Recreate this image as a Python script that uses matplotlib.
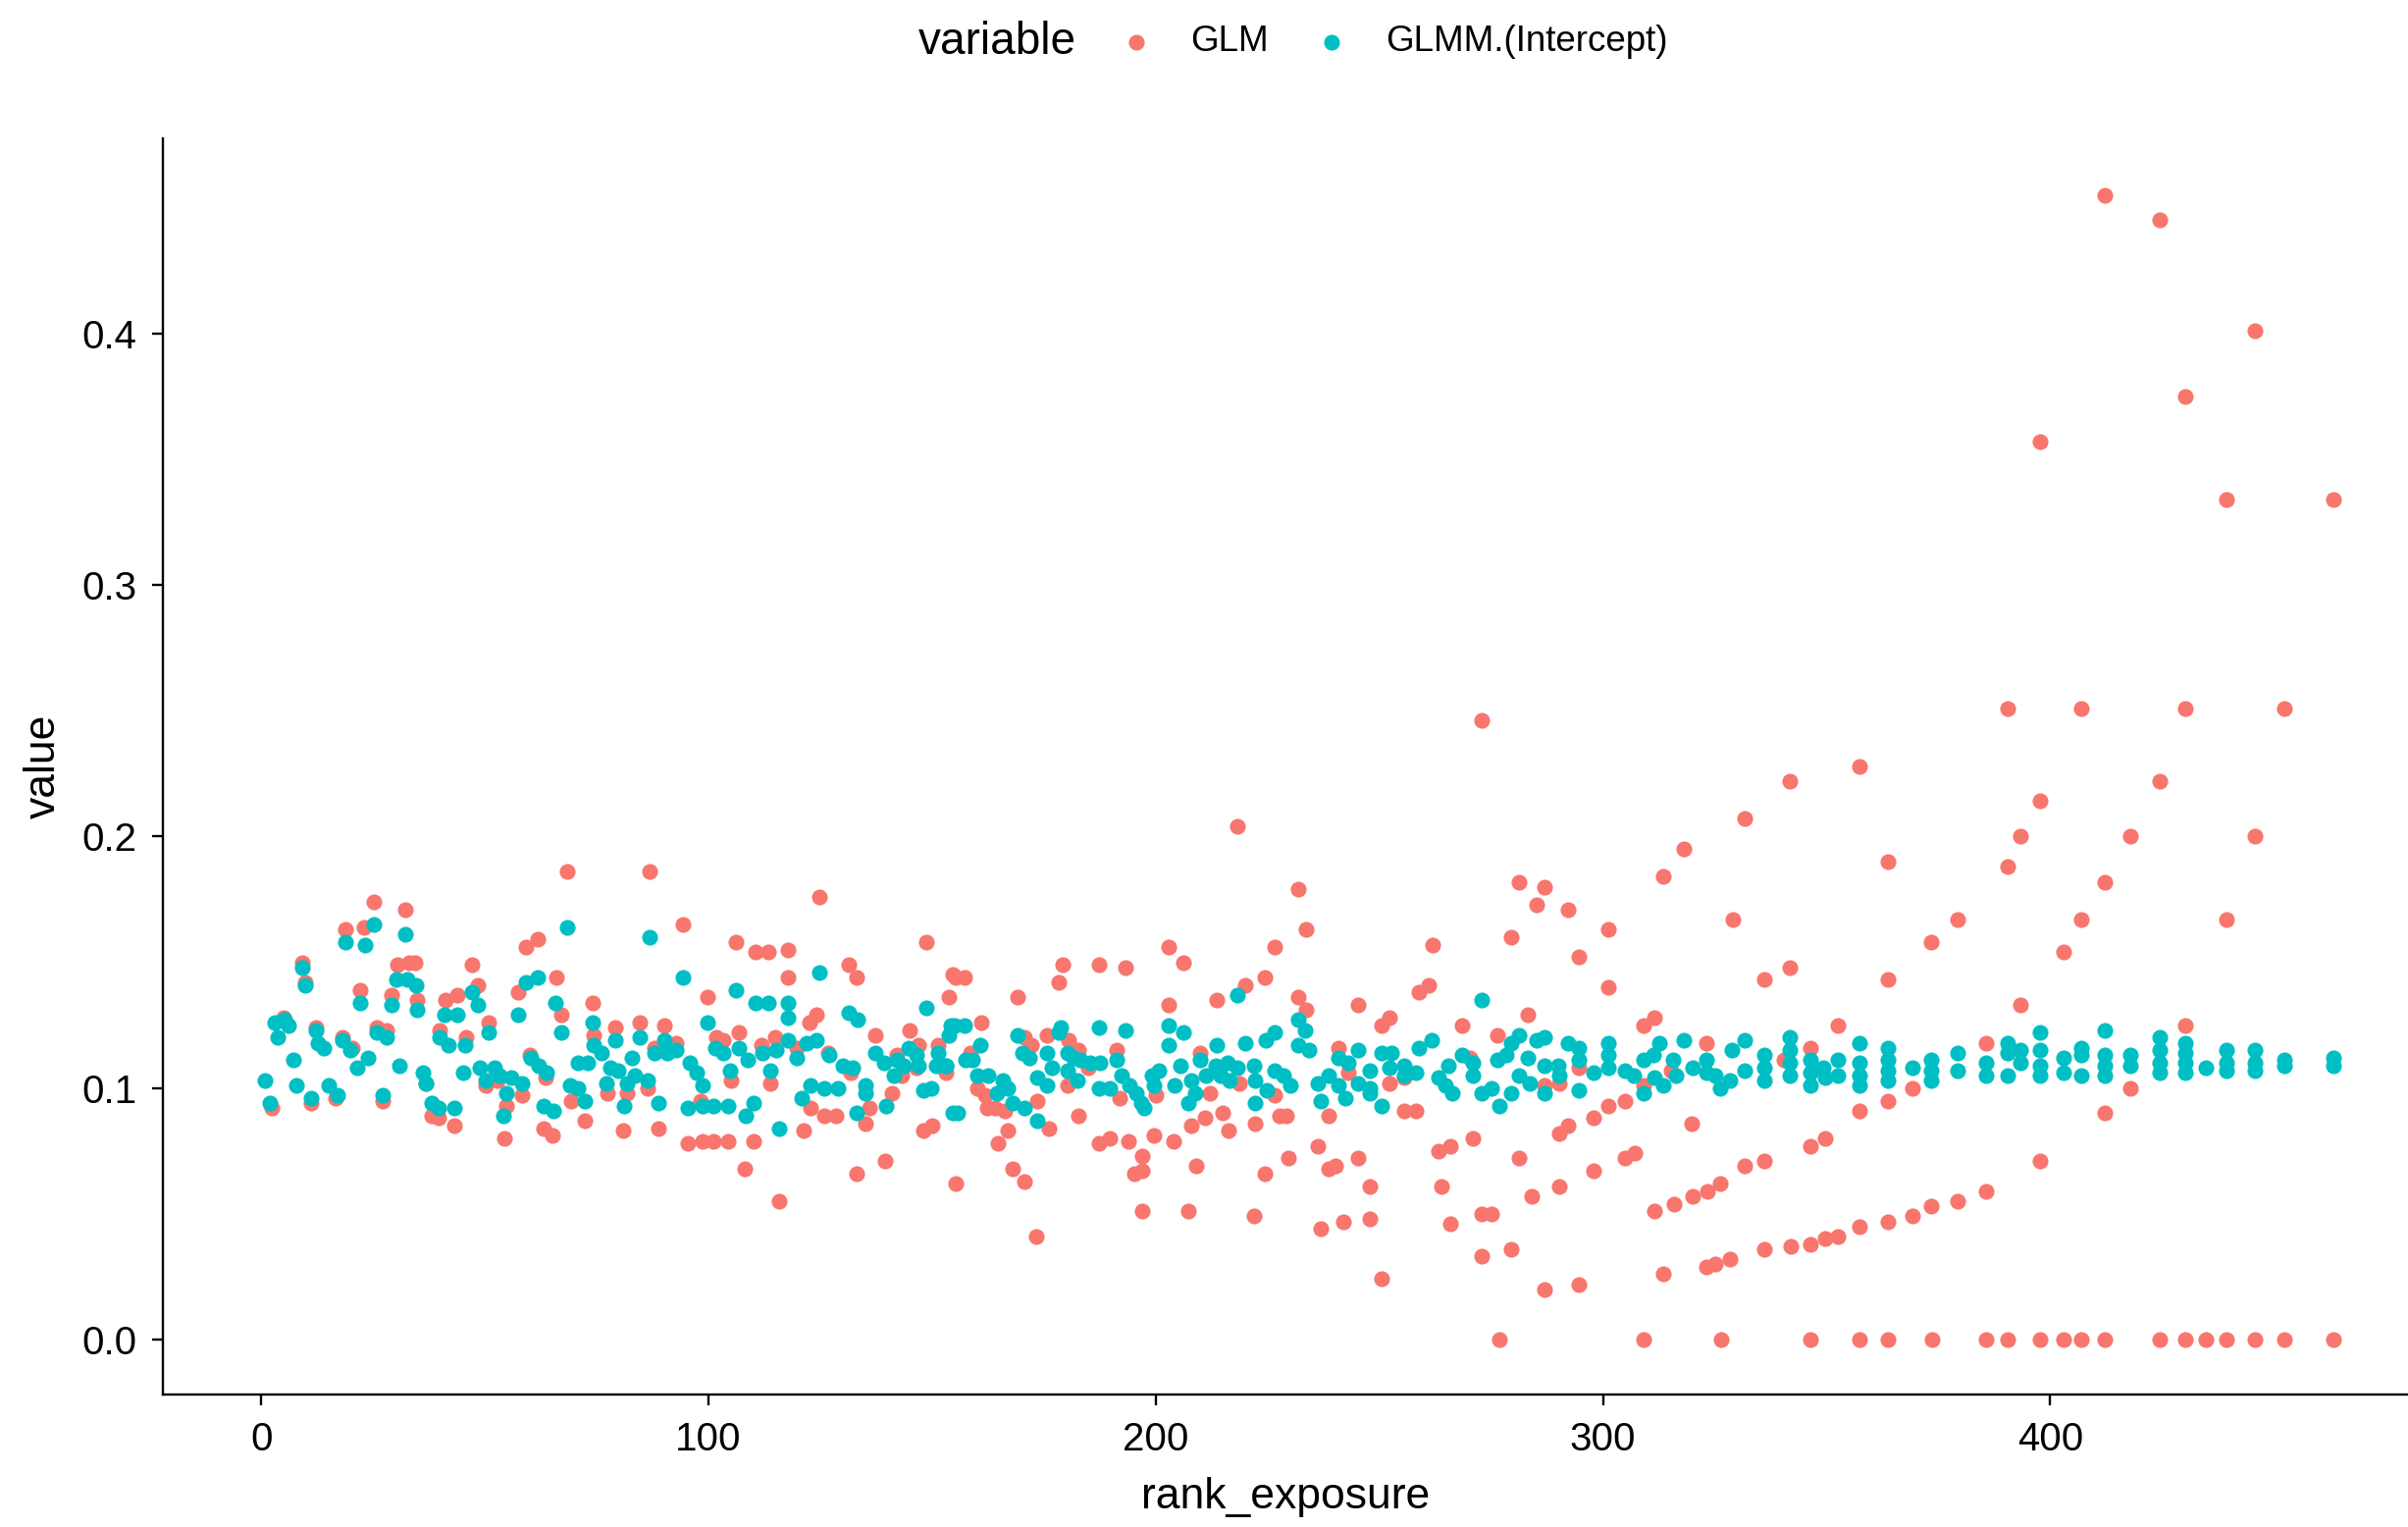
import matplotlib
matplotlib.use('Agg')
import matplotlib.pyplot as plt
import numpy as np

plt.rcParams['font.family'] = ['Liberation Sans', 'DejaVu Sans']

# GLM estimates, read off by rank_exposure band
glm_x_a = [68.4, 25.2, 32.2, 18.8, 23.1, 59.1, 61.8, 9.2, 9.9, 30.4,
           33.1, 34.4, 47.1, 48.5, 65.9, 22.1, 29.2, 34.9, 41.3, 43.9,
           57.4, 74.1, 67.1, 50.9, 5.1, 12.2, 18.1, 25.8, 28.0, 39.8,
           45.9, 74.4, 20.3, 60.0, 63.5, 36.8, 50.3, 52.9, 58.3, 69.3,
           2.3, 11.1, 16.6, 27.2, 38.2, 39.7, 43.2, 54.9, 72.3, 63.1,
           65.1, 54.3]
glm_y_a = [.186, .174, .171, .163, .164, .156, .159, .150, .142, .149,
           .150, .150, .149, .141, .144, .139, .137, .135, .135, .137,
           .138, .134, .129, .126, .128, .124, .120, .124, .123, .123,
           .120, .121, .116, .113, .104, .102, .101, .103, .097, .095,
           .092, .094, .096, .095, .089, .088, .085, .093, .087, .084,
           .081, .080]

glm_x_b = [86.8, 124.9, 94.2, 106.2, 110.6, 113.4, 117.8, 117.8, 148.7, 131.4,
           133.2, 154.6, 153.8, 99.8, 122.5, 124.2, 84.6, 90.1, 79.2, 106.8,
           101.7, 103.3, 92.7, 137.4, 144.9, 111.9, 114.9, 119.8, 146.9, 151.3,
           87.9, 126.7, 142.1, 105.1, 113.9, 77.5, 81.9, 86.5, 131.9, 143.2,
           146.5, 141.0, 122.9, 126.0, 128.6, 135.9, 135.2, 81.0, 88.8, 95.3,
           98.6, 101.1, 104.4, 110.1, 121.2, 148.0, 150.0, 108.1, 115.8, 133.2,
           139.6, 155.3, 98.2]
glm_y_b = [.186, .176, .165, .158, .154, .154, .155, .144, .158, .149,
           .144, .145, .136, .136, .126, .129, .126, .125, .124, .122,
           .120, .119, .118, .121, .123, .117, .120, .116, .117, .117,
           .116, .114, .113, .103, .102, .098, .098, .100, .106, .105,
           .108, .098, .092, .089, .089, .092, .086, .083, .084, .078,
           .079, .079, .079, .079, .083, .083, .085, .068, .055, .066,
           .071, .062, .095]

glm_x_c = [218.3, 231.8, 233.7, 202.8, 206.1, 226.5, 224.5, 179.1, 187.3, 193.2,
           178.4, 155.3, 157.2, 169.2, 202.8, 220.1, 213.7, 231.8, 233.7, 161.0,
           170.7, 172.2, 175.7, 180.6, 182.8, 191.2, 209.9, 158.5, 153.1, 160.1,
           161.9, 180.2, 185.0, 173.6, 192.0, 200.0, 212.1, 218.7, 226.7, 162.3,
           164.1, 166.3, 182.8, 176.2, 166.9, 164.8, 215.0, 227.8, 229.3, 211.0,
           208.0, 216.3, 222.2, 199.6, 204.0, 193.8, 187.4, 189.7, 197.0, 229.6,
           168.0, 170.6, 195.2, 197.0, 209.1, 224.5, 196.9, 207.3, 221.9, 173.2]
glm_y_c = [.204, .179, .163, .156, .150, .156, .144, .149, .149, .148,
           .142, .144, .144, .136, .133, .141, .135, .136, .131, .126,
           .120, .117, .121, .119, .115, .115, .114, .114, .106, .100,
           .097, .101, .108, .095, .096, .097, .098, .102, .097, .092,
           .092, .091, .089, .084, .083, .078, .090, .089, .089, .088,
           .085, .083, .086, .081, .079, .079, .078, .080, .073, .072,
           .068, .063, .066, .067, .069, .066, .051, .051, .049, .041]

glm_x_d = [272.9, 281.2, 287.0, 285.2, 292.2, 279.4, 301.3, 294.7, 262.0, 301.3,
           258.9, 261.0, 245.3, 250.6, 252.3, 268.4, 283.2, 276.4, 309.0, 240.8,
           243.1, 252.3, 255.6, 270.2, 294.7, 287.0, 290.3, 309.0, 238.7, 255.6,
           258.1, 301.3, 305.0, 298.0, 292.2, 290.3, 236.2, 238.7, 240.2, 245.2,
           247.9, 263.2, 265.8, 270.9, 281.2, 305.0, 307.2, 298.0, 290.3, 264.0,
           284.0, 236.9, 242.0, 247.9, 265.8, 272.9, 275.0, 272.9, 279.4, 250.6,
           287.0, 294.7]
glm_y_d = [.246, .182, .180, .173, .171, .160, .163, .152, .157, .140,
           .138, .141, .133, .125, .128, .125, .129, .121, .125, .116,
           .106, .102, .104, .112, .108, .101, .102, .101, .089, .091,
           .091, .093, .095, .088, .085, .082, .077, .068, .069, .072,
           .061, .075, .077, .080, .072, .072, .074, .067, .061, .061,
           .057, .044, .047, .048, .046, .050, .050, .033, .036, .024,
           .020, .022]

glm_x_e = [390.4, 357.4, 341.8, 331.6, 318.0, 313.4, 363.7, 390.4, 329.0, 379.2,
           373.3, 336.1, 341.8, 363.7, 311.6, 352.6, 323.1, 346.4, 385.7, 340.5,
           315.3, 369.1, 363.7, 357.4, 319.9, 346.4, 349.7, 331.6, 336.1, 311.6,
           316.0, 320.0, 323.3, 326.2, 357.4, 363.7, 369.1, 373.3, 379.2, 385.7,
           313.4, 323.1, 325.1, 328.4, 336.1, 342.0, 346.4, 349.7, 352.6]
glm_y_e = [.251, .228, .222, .207, .195, .184, .190, .188, .167, .167,
           .158, .143, .148, .143, .128, .125, .118, .116, .118, .111,
           .107, .100, .095, .091, .086, .077, .080, .069, .071, .051,
           .054, .057, .059, .062, .045, .047, .049, .053, .055, .059,
           .026, .029, .030, .032, .036, .037, .038, .040, .041]

glm_x_f = [407.0, 430.3, 452.3, 424.6, 397.8, 393.3, 417.9, 445.8, 412.1, 407.0,
           439.4, 403.0, 393.3, 430.3, 417.9, 412.1, 397.8, 412.1, 424.6, 445.8,
           430.3, 397.8, 439.4, 463.3]
glm_y_f = [.251, .251, .251, .222, .214, .200, .200, .200, .182, .167,
           .167, .154, .133, .125, .100, .090, .071, .455, .445, .401,
           .375, .357, .334, .334]

# GLM estimates that sit exactly at zero
glm_x_zero = [276.8, 309.0, 326.4, 346.4, 357.4, 363.7, 373.5, 385.7, 390.4, 397.8,
              403.0, 407.0, 412.1, 424.5, 430.3, 434.8, 439.4, 445.8, 452.3, 463.3]
glm_y_zero = [0.0] * len(glm_x_zero)

# GLMM intercepts
glmm_x_a = [68.4, 25.2, 32.2, 18.8, 23.2, 9.2, 9.9, 30.2, 32.7, 34.6,
            47.1, 48.5, 59.1, 61.8, 22.1, 29.2, 34.9, 41.1, 43.9, 57.4,
            65.7, 67.1, 74.1, 3.1, 5.3, 6.0, 3.8, 12.2, 12.6, 14.1,
            18.1, 19.9, 21.4, 23.9, 25.8, 28.0, 30.9, 36.2, 36.8, 39.8,
            41.9, 45.5, 50.8, 45.2, 48.8, 52.1, 50.3, 53.2, 55.8, 58.3,
            54.9, 54.2, 60.2, 62.0, 63.8, 70.8, 73.0, 69.0, 70.8, 72.3,
            74.4, 0.9, 2.0, 7.8, 11.1, 15.2, 17.0, 27.2, 38.2, 39.7,
            43.2, 63.1, 65.3, 7.3]
glmm_y_a = [.164, .165, .161, .158, .157, .148, .141, .143, .143, .141,
            .138, .133, .142, .144, .134, .133, .131, .129, .129, .129,
            .134, .122, .126, .126, .127, .125, .120, .123, .118, .116,
            .119, .115, .108, .112, .122, .120, .109, .106, .102, .120,
            .117, .117, .122, .106, .108, .108, .103, .105, .104, .102,
            .098, .089, .112, .109, .106, .110, .110, .101, .100, .095,
            .117, .103, .094, .101, .096, .101, .097, .097, .094, .092,
            .092, .093, .091, .111]

glmm_x_b = [86.8, 94.2, 124.9, 106.2, 110.6, 113.4, 117.8, 117.8, 148.7, 131.4,
            133.3, 99.8, 84.6, 79.2, 90.1, 154.2, 153.8, 76.2, 78.1, 79.9,
            82.8, 83.5, 86.5, 77.3, 81.7, 87.9, 90.9, 92.7, 95.8, 97.3,
            98.6, 81.2, 88.8, 95.3, 98.6, 101.1, 104.4, 108.3, 110.1, 115.8,
            101.5, 103.3, 104.9, 106.8, 108.8, 112.1, 115.2, 113.9, 117.8, 119.8,
            122.0, 124.2, 126.9, 130.0, 132.2, 120.9, 122.9, 126.0, 128.9, 135.2,
            135.2, 133.2, 137.4, 139.2, 139.8, 141.4, 142.1, 144.7, 146.5, 143.6,
            147.0, 148.0, 149.8, 151.3, 153.1, 150.9, 154.6]
glmm_y_b = [.160, .144, .146, .139, .134, .134, .134, .128, .132, .130,
            .127, .126, .120, .119, .119, .125, .121, .114, .108, .107,
            .112, .105, .103, .102, .102, .114, .114, .115, .110, .106,
            .101, .093, .094, .092, .093, .093, .093, .089, .094, .084,
            .116, .114, .107, .116, .111, .114, .115, .107, .119, .112,
            .118, .119, .113, .109, .108, .096, .101, .100, .100, .101,
            .098, .090, .114, .110, .093, .105, .111, .116, .113, .109,
            .109, .099, .100, .114, .109, .109, .090]

glmm_x_c = [218.3, 231.8, 233.3, 231.8, 155.0, 157.2, 160.8, 169.2, 178.8, 178.4,
            187.3, 193.2, 202.8, 206.1, 202.8, 213.7, 220.1, 224.7, 226.5, 170.3,
            171.8, 175.8, 180.2, 181.7, 153.1, 157.5, 159.0, 160.1, 162.6, 165.9,
            164.5, 167.0, 168.1, 170.7, 173.6, 175.8, 173.6, 176.9, 180.2, 182.4,
            183.1, 185.3, 187.5, 187.4, 189.7, 191.2, 192.3, 194.1, 195.6, 196.7,
            197.4, 199.2, 200.7, 199.6, 204.2, 205.5, 208.0, 208.8, 207.3, 209.9,
            211.3, 213.5, 216.1, 218.3, 214.6, 216.5, 221.9, 222.3, 222.3, 224.9,
            226.5, 228.5, 230.0, 155.7]
glmm_y_c = [.137, .127, .123, .117, .125, .125, .117, .121, .124, .122,
            .124, .123, .125, .122, .117, .117, .118, .119, .122, .114,
            .112, .114, .114, .112, .109, .111, .111, .105, .105, .103,
            .098, .100, .094, .092, .104, .101, .087, .108, .107, .103,
            .111, .110, .110, .100, .100, .111, .105, .101, .098, .094,
            .092, .105, .107, .101, .101, .109, .103, .098, .094, .111,
            .105, .109, .110, .108, .105, .103, .109, .103, .094, .099,
            .107, .105, .101, .090]

glmm_x_d = [272.9, 234.3, 240.8, 243.1, 245.2, 238.7, 236.2, 240.9, 242.4, 236.9,
            245.2, 247.9, 247.9, 250.6, 247.9, 250.6, 252.6, 252.3, 255.6, 258.1,
            255.6, 258.9, 261.8, 263.2, 264.7, 266.2, 265.4, 268.4, 270.9, 270.9,
            272.8, 275.0, 276.8, 276.4, 278.3, 279.4, 281.2, 281.2, 283.7, 279.4,
            283.2, 285.2, 287.0, 287.0, 287.0, 290.0, 290.3, 292.2, 294.7, 294.7,
            294.7, 298.0, 301.3, 301.3, 301.3, 305.0, 306.8, 309.0, 309.0, 311.2,
            311.6, 312.7]
glmm_y_d = [.135, .115, .112, .110, .115, .105, .102, .101, .096, .095,
            .102, .100, .098, .093, .107, .114, .114, .108, .109, .106,
            .105, .116, .119, .104, .101, .098, .109, .113, .110, .105,
            .098, .100, .093, .111, .113, .118, .121, .105, .102, .098,
            .112, .119, .120, .109, .098, .109, .105, .118, .116, .111,
            .099, .106, .118, .113, .108, .107, .105, .111, .098, .113,
            .104, .118]

glmm_x_e = [318.0, 331.6, 341.8, 357.4, 363.7, 379.2, 390.4, 390.4, 315.6, 316.4,
            320.0, 313.4, 323.1, 323.1, 325.1, 326.2, 328.8, 328.4, 331.6, 336.1,
            336.1, 336.1, 341.8, 341.8, 341.8, 346.4, 346.4, 346.4, 349.3, 349.7,
            352.6, 352.6, 357.4, 357.4, 357.4, 363.7, 363.7, 363.7, 369.1, 373.3,
            373.3, 373.3, 379.2, 385.7, 385.7, 390.4]
glmm_y_e = [.119, .119, .120, .118, .116, .114, .118, .114, .111, .105,
            .108, .101, .111, .106, .105, .100, .115, .103, .107, .113,
            .108, .103, .115, .110, .105, .111, .106, .101, .108, .104,
            .111, .105, .110, .105, .101, .111, .107, .103, .108, .111,
            .107, .103, .107, .110, .105, .105]

glmm_x_f = [393.3, 393.3, 397.8, 397.8, 397.8, 397.8, 403.0, 403.0, 407.0, 407.0,
            407.0, 412.1, 412.1, 412.1, 412.1, 417.9, 417.9, 424.5, 424.5, 424.5,
            424.5, 430.3, 430.3, 430.3, 430.3, 434.8, 439.4, 439.4, 439.4, 445.8,
            445.8, 445.8, 452.3, 452.3, 463.3, 463.3]
glmm_y_f = [.115, .110, .122, .115, .109, .105, .112, .106, .116, .113,
            .105, .123, .113, .109, .105, .113, .109, .120, .115, .110,
            .106, .118, .114, .110, .106, .108, .115, .110, .107, .115,
            .110, .107, .111, .109, .112, .109]

glm_rank = np.concatenate([glm_x_a, glm_x_b, glm_x_c, glm_x_d, glm_x_e, glm_x_f, glm_x_zero])
glm_value = np.concatenate([glm_y_a, glm_y_b, glm_y_c, glm_y_d, glm_y_e, glm_y_f, glm_y_zero])
glmm_rank = np.concatenate([glmm_x_a, glmm_x_b, glmm_x_c, glmm_x_d, glmm_x_e, glmm_x_f])
glmm_value = np.concatenate([glmm_y_a, glmm_y_b, glmm_y_c, glmm_y_d, glmm_y_e, glmm_y_f])

fig = plt.figure(figsize=(24.54, 15.56), dpi=100)
ax = fig.add_axes([0.0676, 0.0865, 0.9324, 0.8230])

ax.scatter(glm_rank, glm_value, s=135, color='#F8766D', linewidths=0, label='GLM')
ax.scatter(glmm_rank, glmm_value, s=135, color='#00BFC4', linewidths=0, label='GLMM.(Intercept)')

ax.set_xlim(-22, 480)
ax.set_ylim(-0.022, 0.4776)
ax.set_xticks([0, 100, 200, 300, 400])
ax.set_yticks([0.0, 0.1, 0.2, 0.3, 0.4])
ax.set_yticklabels(['0.0', '0.1', '0.2', '0.3', '0.4'])

for side in ['top', 'right']:
    ax.spines[side].set_visible(False)
for side in ['left', 'bottom']:
    ax.spines[side].set_linewidth(1.7)
ax.tick_params(length=8, width=1.7, labelsize=29, colors='black')
ax.tick_params(axis='x', pad=11)
ax.tick_params(axis='y', pad=11)

ax.set_xlabel('rank_exposure', fontsize=32, labelpad=14)
ax.set_ylabel('value', fontsize=32, labelpad=13)

# legend on top, title on the left like ggplot
fig.text(0.3814, 0.9725, 'variable', fontsize=33, va='center', ha='left')
fig.legend(loc='center left', bbox_to_anchor=(0.4643, 0.9725), ncol=2, frameon=False,
           fontsize=26.5, handlelength=1, handletextpad=1.0, columnspacing=1.25,
           borderpad=0, borderaxespad=0, scatterpoints=1)

fig.savefig('out.png', dpi=100)
